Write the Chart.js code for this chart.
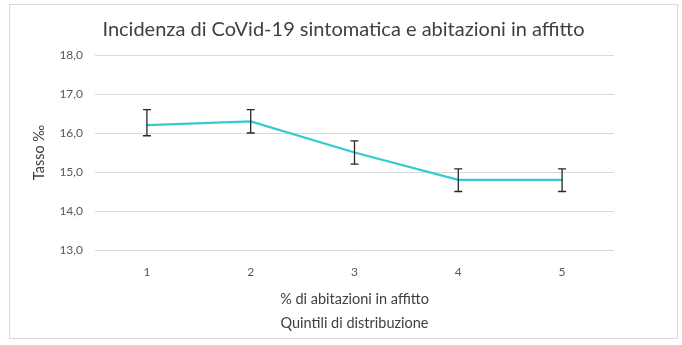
<!DOCTYPE html>
<html>
<head>
<meta charset="utf-8">
<script src="https://cdn.jsdelivr.net/npm/chart.js@4"></script>
<style>
  body { margin: 0; background: #fff; }
  #box { position: absolute; left: 9px; top: 4px; width: 667px; height: 333px; border: 1px solid #d9d9d9; }
</style>
</head>
<body>
<div id="box"><canvas id="charts" width="667" height="333"></canvas></div>
<script>
// quintili e tasso (per mille)
const quintili = ['1', '2', '3', '4', '5']
const tasso = [16.2, 16.3, 15.5, 14.8, 14.8]
// estremi delle barre di errore
const errLow = [15.93, 16.0, 15.2, 14.5, 14.5]
const errHigh = [16.6, 16.6, 15.8, 15.08, 15.08]
const yTicks = [13, 14, 15, 16, 17, 18]

const fontName = 'Lato, "Open Sans", sans-serif'

// barre di errore disegnate sopra la linea
const errorBars = {
  id: 'errorBars',
  afterDatasetsDraw(chart) {
    const ctx = chart.ctx
    const x = chart.scales.x
    const y = chart.scales.y
    ctx.save()
    ctx.strokeStyle = '#262626'
    ctx.lineWidth = 1.3
    quintili.forEach((q, i) => {
      const px = x.getPixelForValue(i)
      const top = y.getPixelForValue(errHigh[i])
      const bot = y.getPixelForValue(errLow[i])
      ctx.beginPath()
      ctx.moveTo(px, top); ctx.lineTo(px, bot)
      ctx.moveTo(px - 4, top); ctx.lineTo(px + 4, top)
      ctx.moveTo(px - 4, bot); ctx.lineTo(px + 4, bot)
      ctx.stroke()
    })
    ctx.restore()
  }
}

const chartCanvas = document.getElementById('charts')
const myChart = new Chart(chartCanvas, {
  type: 'line',
  data: {
    labels: quintili,
    datasets: [{
      data: tasso,
      borderColor: '#33cccc',
      borderWidth: 2.25,
      pointRadius: 0,
      tension: 0,
      fill: false
    }]
  },
  options: {
    responsive: false,
    animation: false,
    layout: { padding: 0 },
    plugins: {
      legend: { display: false },
      tooltip: { enabled: false },
      title: {
        display: true,
        text: 'Incidenza di CoVid-19 sintomatica e abitazioni in affitto',
        color: '#404040',
        font: { family: fontName, size: 20, weight: 'normal' },
        padding: { top: 13, bottom: 13 }
      }
    },
    scales: {
      x: {
        offset: true,
        grid: { display: false, drawTicks: false },
        border: { display: false },
        ticks: { color: '#595959', font: { family: fontName, size: 12 }, padding: 15 },
        title: {
          display: true,
          text: ['% di abitazioni in affitto', 'Quintili di distribuzione'],
          color: '#404040',
          font: { family: fontName, size: 14.5, lineHeight: 1.6 },
          padding: { top: 0, bottom: 3.5 }
        },
        afterFit(scale) { scale.height = 88 }
      },
      y: {
        min: 13,
        max: 18,
        afterBuildTicks(scale) { scale.ticks = yTicks.map(v => ({ value: v })) },
        grid: { color: '#d9d9d9', lineWidth: 1, drawTicks: false },
        border: { display: false },
        ticks: {
          color: '#595959',
          font: { family: fontName, size: 12 },
          padding: 12,
          callback: v => v.toFixed(1).replace('.', ',')
        },
        title: {
          display: true,
          text: 'Tasso ‰',
          color: '#404040',
          font: { family: fontName, size: 14.5 },
          padding: { top: 21, bottom: 0 }
        },
        afterFit(scale) { scale.width = 85 }
      },
      // spazio vuoto a destra
      yRight: {
        position: 'right',
        min: 13,
        max: 18,
        grid: { display: false, drawTicks: false },
        border: { display: false },
        ticks: { display: false },
        afterFit(scale) { scale.width = 63 }
      }
    }
  },
  plugins: [errorBars]
})
</script>
</body>
</html>
